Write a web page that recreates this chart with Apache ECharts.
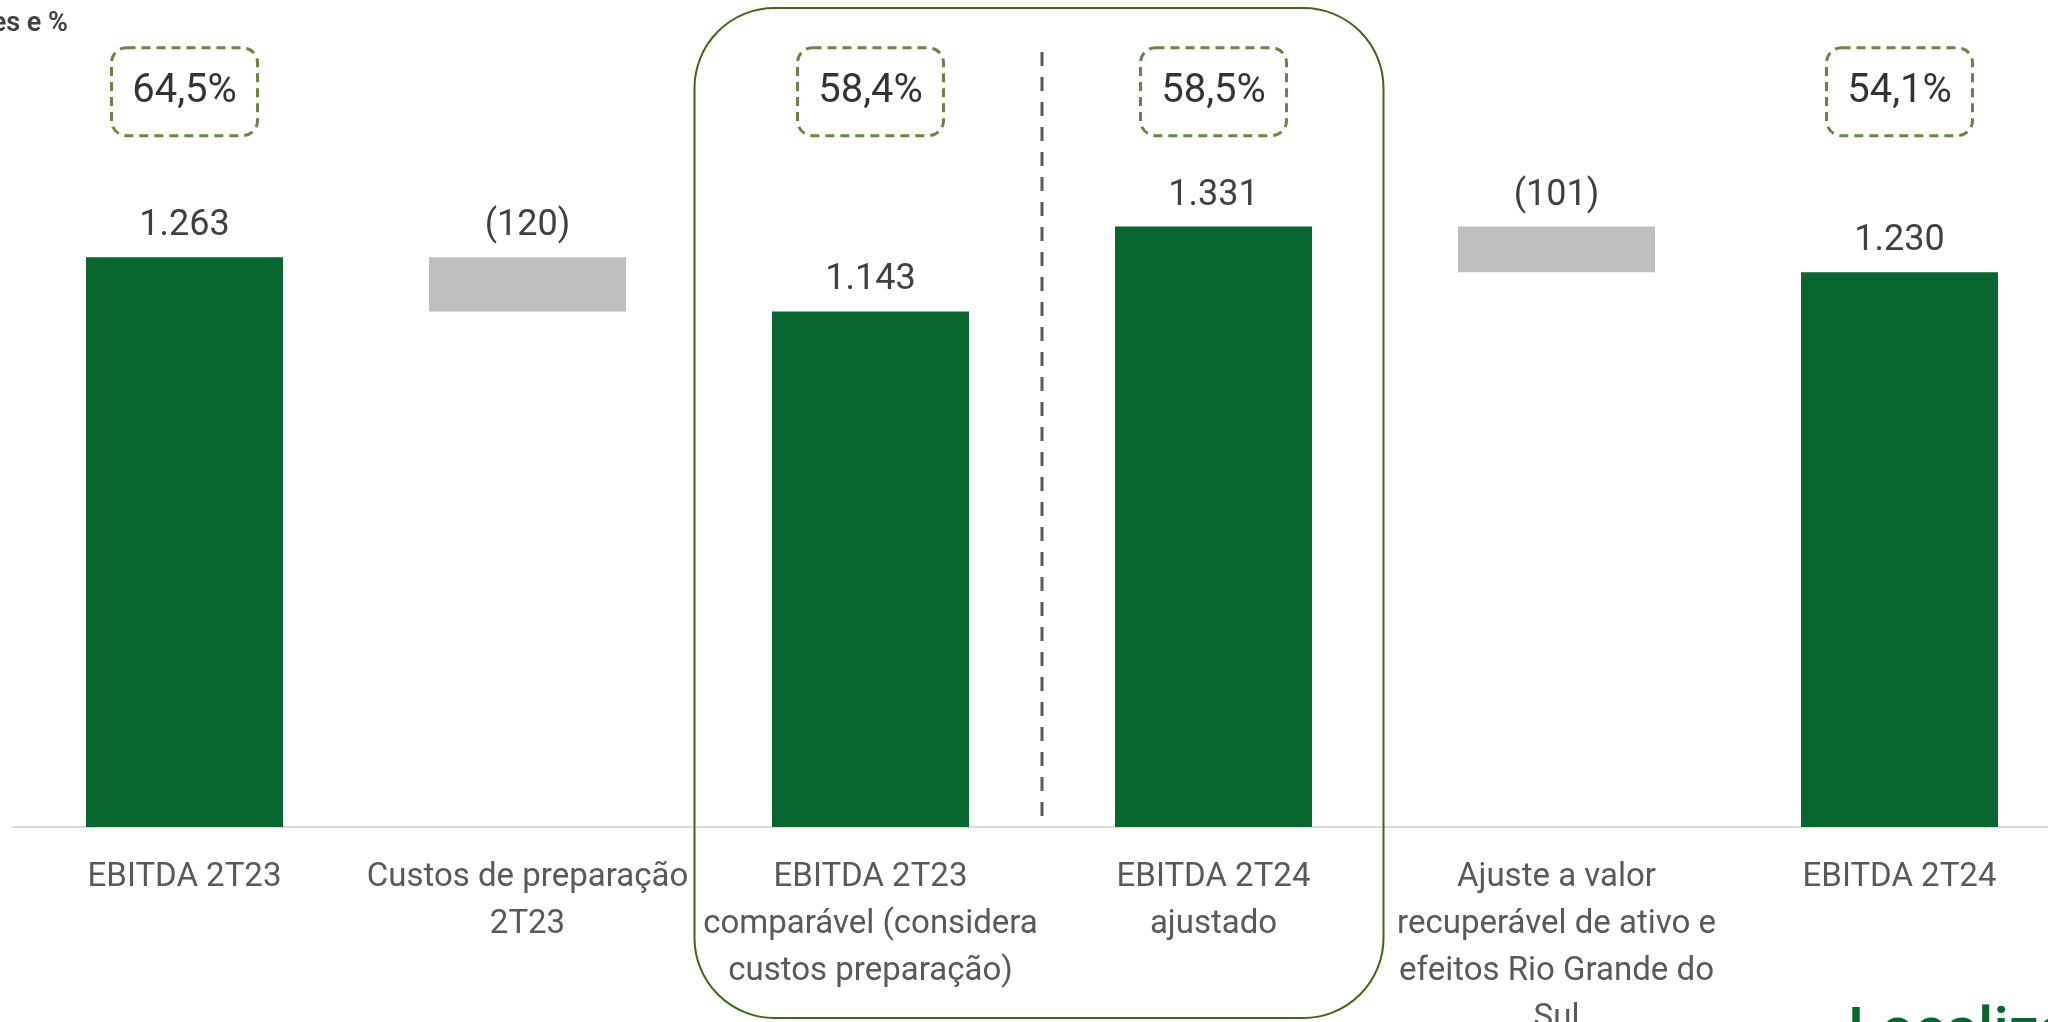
<!DOCTYPE html>
<html>
<head>
<meta charset="utf-8">
<script src="https://cdn.jsdelivr.net/npm/echarts@6/dist/echarts.min.js"></script>
<style>
html, body { margin: 0; padding: 0; background: #fff; }
#container { width: 2048px; height: 1022px; }
</style>
</head>
<body>
<div id="container"></div>
<script>
var categories = [
    'EBITDA 2T23',
    'Custos de preparação\n2T23',
    'EBITDA 2T23\ncomparável (considera\ncustos preparação)',
    'EBITDA 2T24\najustado',
    'Ajuste a valor\nrecuperável de ativo e\nefeitos Rio Grande do\nSul',
    'EBITDA 2T24'
];
// valores positivos = total, negativos = variação
var values = [1263, -120, 1143, 1331, -101, 1230];
var margins = ['64,5%', null, '58,4%', '58,5%', null, '54,1%'];
var marginLevel = 1630;

var GREEN = '#08672f';
var GRAY = '#bfbfbf';
var BOX_GREEN = '#3b6a14';

function fmt(v) {
    var s = String(Math.abs(v));
    s = s.replace(/\B(?=(\d{3})+(?!\d))/g, '.');
    return v < 0 ? '(' + s + ')' : s;
}

// monta base invisível e barras do waterfall
var base = [], bars = [], last = 0;
values.forEach(function (v) {
    if (v < 0) {
        base.push(last + v);
        bars.push({ value: -v, itemStyle: { color: GRAY } });
    } else {
        base.push(0);
        bars.push({ value: v, itemStyle: { color: GREEN } });
        last = v;
    }
});

var marginData = margins.map(function (m, i) {
    return m ? { value: [i, marginLevel], label: { formatter: m } } : [i, '-'];
});

var container = document.getElementById('container');
var charts = echarts.init(container);

var option = {
    animation: false,
    grid: { left: 13, right: -23, top: 15, bottom: 195, containLabel: false, outerBoundsMode: 'none' },
    xAxis: {
        type: 'category',
        data: categories,
        axisLine: { lineStyle: { color: '#d9d9d9', width: 2 } },
        axisTick: { show: false },
        axisLabel: {
            interval: 0,
            margin: 27,
            fontFamily: 'Roboto',
            fontSize: 33,
            lineHeight: 47,
            color: '#595959'
        }
    },
    yAxis: {
        type: 'value',
        min: 0,
        max: 1800,
        show: false,
        splitLine: { show: false }
    },
    series: [
        {
            type: 'bar',
            stack: 'w',
            data: base,
            barWidth: 197,
            itemStyle: { color: 'transparent' },
            silent: true
        },
        {
            type: 'bar',
            stack: 'w',
            data: bars,
            barWidth: 197,
            label: {
                show: true,
                position: 'top',
                distance: 13,
                fontFamily: 'Roboto',
                fontSize: 36,
                color: '#404040',
                formatter: function (p) { return fmt(values[p.dataIndex]); }
            }
        },
        {
            type: 'scatter',
            data: marginData,
            symbolSize: 0,
            label: {
                show: true,
                position: 'inside',
                fontFamily: 'Roboto',
                fontSize: 40,
                color: '#000',
                width: 146,
                height: 88,
                lineHeight: 88,
                align: 'center',
                verticalAlign: 'middle',
                borderColor: BOX_GREEN,
                borderWidth: 3,
                borderType: [9, 6],
                borderRadius: 15
            }
        }
    ]
};
charts.setOption(option, true);

// destaque: caixa arredondada e separador tracejado
var left = charts.convertToPixel({ xAxisIndex: 0 }, 2) - 176;
var right = charts.convertToPixel({ xAxisIndex: 0 }, 3) + 170;
var mid = (charts.convertToPixel({ xAxisIndex: 0 }, 2) + charts.convertToPixel({ xAxisIndex: 0 }, 3)) / 2;
var axisY = charts.convertToPixel({ yAxisIndex: 0 }, 0);

charts.setOption({
    graphic: [
        {
            type: 'rect',
            shape: { x: left, y: 8, width: right - left, height: 1010, r: 80 },
            style: { fill: 'none', stroke: BOX_GREEN, lineWidth: 2 },
            z: 10
        },
        {
            type: 'line',
            shape: { x1: mid, y1: 52, x2: mid, y2: axisY - 4 },
            style: { stroke: '#595959', lineWidth: 3, lineDash: [14, 11] },
            z: 10
        },
        {
            type: 'text',
            x: 68,
            y: 24,
            style: {
                text: 'R$ milhões e %',
                align: 'right',
                verticalAlign: 'middle',
                font: '600 27px Roboto',
                fill: '#404040'
            }
        },
        {
            type: 'text',
            x: 1848,
            y: 1004,
            style: {
                text: 'Localiza',
                align: 'left',
                verticalAlign: 'top',
                font: '500 60px Roboto',
                fill: GREEN
            }
        }
    ]
});
</script>
</body>
</html>
